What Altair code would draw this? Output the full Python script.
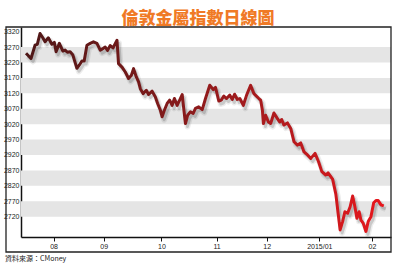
import altair as alt
import pandas as pd

title_text = "倫敦金屬指數日線圖"
source_text = "資料來源：CMoney"

# trading-day index (from mid-July 2014) and LME index level
day = [0, 2, 3.6, 4.5, 5.6, 6.7, 7.6, 8.9, 10.3, 11.3, 12, 13.3, 14.7, 15.6, 16.5, 17.6,
       18.7, 20.3, 21.3, 22.3, 23.2, 24.3, 25.6, 26.9, 28.3, 29.6, 30.7, 31.6, 32.5, 33.6,
       34.7, 36.3, 36.9, 38.3, 39.6, 40.9, 42, 42.9, 44, 44.9, 45.6, 46.7, 48, 48.9, 50.3,
       51.6, 52.5, 53.6, 54.3, 55.2, 56.3, 57.3, 58.3, 59.2, 60.3, 61.3, 62.3, 62.9, 63.6,
       64.5, 65.6, 66.7, 67.6, 68.9, 70.3, 71.6, 73.3, 74.7, 75.6, 76.9, 77.9, 78.9, 80,
       81.3, 82.3, 83.2, 84.3, 85.3, 86.7, 88, 89.6, 90.9, 92.9, 93.6, 94.3, 94.7, 95.6,
       96.7, 97.6, 98.9, 100.3, 101.2, 102, 102.9, 104.3, 105.6, 106.9, 108.3, 109.6,
       110.9, 112.3, 113.6, 115.3, 116.7, 118, 119.6, 120.5, 122.3, 123.6, 124.5, 125.3,
       126.3, 127.2, 128.3, 129.3, 130.3, 131.2, 132, 132.9, 133.6, 134.5, 135.6, 136.5,
       137.6, 138.7, 139.6, 140.5, 141.6, 142.7]
value = [3250, 3233, 3276, 3279, 3314, 3300, 3287, 3300, 3279, 3285, 3255, 3282, 3257,
         3260, 3253, 3255, 3244, 3201, 3212, 3225, 3225, 3276, 3282, 3287, 3282, 3260,
         3265, 3270, 3259, 3275, 3267, 3292, 3216, 3205, 3189, 3168, 3178, 3200, 3173,
         3157, 3135, 3119, 3130, 3116, 3127, 3108, 3087, 3065, 3044, 3065, 3087, 3098,
         3081, 3103, 3081, 3098, 3116, 3072, 3022, 3049, 3060, 3055, 3071, 3076, 3067,
         3103, 3146, 3132, 3139, 3095, 3098, 3111, 3103, 3114, 3100, 3117, 3100, 3103,
         3081, 3114, 3146, 3119, 3103, 3098, 3065, 3022, 3049, 3027, 3022, 3056, 3038,
         3027, 3035, 3017, 3024, 3006, 2963, 2952, 2959, 2930, 2920, 2909, 2925, 2898,
         2866, 2855, 2862, 2842, 2793, 2731, 2677, 2704, 2736, 2731, 2752, 2787, 2752,
         2715, 2736, 2709, 2699, 2672, 2704, 2720, 2765, 2772, 2772, 2758, 2755]

y_ticks = [2720, 2770, 2820, 2870, 2920, 2970, 3020, 3070, 3120, 3170, 3220, 3270, 3320]
band_low = [2720, 2820, 2920, 3020, 3120, 3220]
band_high = [2770, 2870, 2970, 3070, 3170, 3270]

month_pos = [11, 31, 54, 76, 96, 117, 138]
month_lbl = ["08", "09", "10", "11", "12", "2015/01", "02"]

W, H = 370, 210
FONT = "Liberation Sans Narrow, Arial Narrow, Liberation Sans, sans-serif"

line_df = pd.DataFrame({"day": day, "value": value})
band_df = pd.DataFrame({"lo": band_low, "hi": band_high})

xscale = alt.Scale(domain=[-2, 145.6], nice=False, zero=False)
yscale = alt.Scale(domain=[2654, 3335], nice=False, zero=False)

label_map = "{" + ",".join(f"'{p}':'{l}'" for p, l in zip(month_pos, month_lbl)) + "}"

x_axis = alt.Axis(values=month_pos, labelExpr=f"{label_map}[datum.value]", title=None,
                  grid=False, domainColor="#111", domainWidth=1.5, tickColor="#111",
                  tickSize=4, tickWidth=1, labelFont=FONT, labelFontSize=7,
                  labelColor="#222", labelPadding=1, labelFlush=False)
y_axis = alt.Axis(values=y_ticks, format="d", title=None, grid=False, domainColor="#111",
                  domainWidth=1.5, ticks=False, labelFont=FONT, labelFontSize=7,
                  labelColor="#222", labelPadding=2, labelOverlap=False, labelBound=False,
                  labelFlush=False)

bands = alt.Chart(band_df).mark_rect(color="#e5e5e5").encode(
    x=alt.value(0), x2=alt.value(W),
    y=alt.Y("hi:Q", scale=yscale, axis=y_axis), y2="lo:Q")

base = alt.Chart(line_df).encode(
    x=alt.X("day:Q", scale=xscale, axis=x_axis),
    y=alt.Y("value:Q", scale=yscale, axis=y_axis))

shadow1 = base.mark_line(stroke="#000", strokeWidth=6, opacity=0.07, xOffset=2, yOffset=3,
                         strokeJoin="round")
shadow2 = base.mark_line(stroke="#000", strokeWidth=3, opacity=0.15, xOffset=2, yOffset=3,
                         strokeJoin="round")

grad = alt.LinearGradient(
    gradient="linear",
    stops=[alt.GradientStop(color="#4e1717", offset=0),
           alt.GradientStop(color="#7a1a1a", offset=0.35),
           alt.GradientStop(color="#b01b1e", offset=0.7),
           alt.GradientStop(color="#e8161c", offset=1)],
    x1=0, x2=1, y1=0, y2=0)

line = base.mark_line(stroke=grad, strokeWidth=3, strokeJoin="round")

frame = alt.Chart(pd.DataFrame({"k": [0]})).mark_rect(
    fill=None, stroke="#222", strokeWidth=1.3).encode(
    x=alt.value(-15), x2=alt.value(W), y=alt.value(0), y2=alt.value(H + 15))

source = alt.Chart(pd.DataFrame({"t": [source_text]})).mark_text(
    align="left", baseline="middle", fontSize=7, font="Noto Sans CJK TC",
    color="#222").encode(x=alt.value(-16), y=alt.value(H + 22), text="t:N")

chart = alt.layer(bands, shadow1, shadow2, line, frame, source).properties(
    width=W, height=H,
    title=alt.TitleParams(title_text, anchor="middle", dx=-8, offset=-2, fontSize=17,
                          font="Noto Sans CJK TC", fontWeight=900, color="#f07a26"),
    autosize=alt.AutoSizeParams(type="none"),
    padding={"left": 21, "top": 27, "right": 7, "bottom": 28},
    background="white",
).configure_view(stroke=None)

chart.save("out.html", embed_options={"renderer": "svg", "actions": False})
